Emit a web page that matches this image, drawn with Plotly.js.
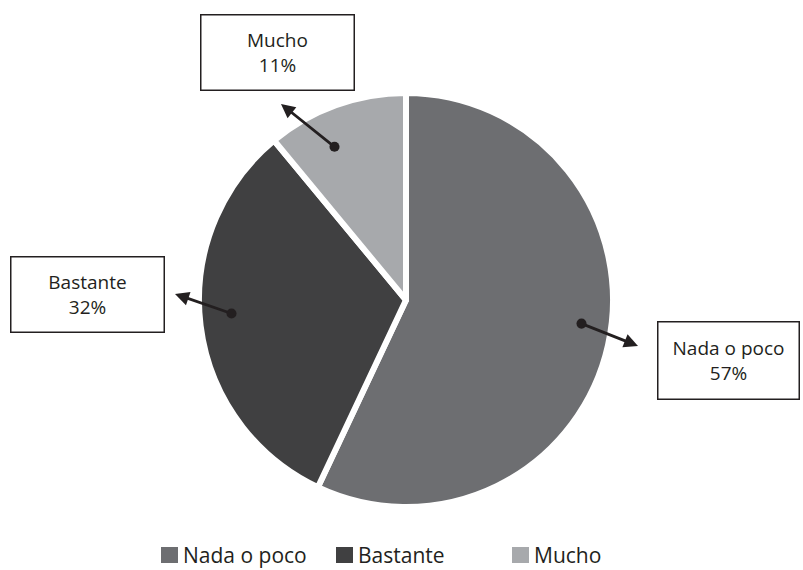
<!DOCTYPE html>
<html>
<head>
<meta charset="utf-8">
<script src="https://cdn.plot.ly/plotly-3.0.1.min.js"></script>
<style>html,body{margin:0;padding:0;background:#fff;}#chart{width:803px;height:570px;}</style>
</head>
<body>
<div id="chart"></div>
<script>
const categories = ["Nada o poco", "Bastante", "Mucho"];
const values = [57, 32, 11];
const colors = ["#6d6e71", "#404041", "#a7a9ac"];

const FONT = "Open Sans, Noto Sans, sans-serif";
const TXT = "#231f20";

const trace = {
  type: "pie",
  labels: categories,
  values: values,
  sort: false,
  direction: "clockwise",
  rotation: 0,
  textinfo: "none",
  hoverinfo: "label+percent",
  marker: {colors: colors, line: {color: "#ffffff", width: 6}},
  domain: {x: [199/803, 613/803], y: [63/570, 477/570]},
  showlegend: false
};

const W = 803, H = 570;
function px(x) { return x / W; }
function py(y) { return 1 - y / H; }

// label box layout (pixels)
const boxes = [
  {cx: 728, cy: 360, w: 140, h: 76},
  {cx: 87, cy: 294, w: 152, h: 74},
  {cx: 277, cy: 52, w: 152, h: 74}
];
const arrows = [
  {hx: 638, hy: 346, tx: 580, ty: 323},
  {hx: 175, hy: 294, tx: 233, ty: 314},
  {hx: 281, hy: 104, tx: 336, ty: 148}
];
// legend layout (pixels): square left edge
const legendX = [161, 336, 512];
const legendY = 555;

const total = values.reduce((a, b) => a + b, 0);
const annotations = [];
const shapes = [];
categories.forEach((c, i) => {
  const pct = Math.round(100 * values[i] / total);
  const b = boxes[i];
  annotations.push({
    xref: "paper", yref: "paper",
    x: px(b.cx), y: py(b.cy), xanchor: "center", yanchor: "middle",
    text: c + "<br>" + pct + "%",
    showarrow: false,
    font: {family: FONT, size: 19, color: TXT},
    bordercolor: "#231f20", borderwidth: 1.5, borderpad: 0,
    width: b.w, height: b.h, bgcolor: "#ffffff"
  });
  const a = arrows[i];
  annotations.push({
    xref: "paper", yref: "paper",
    x: px(a.hx), y: py(a.hy),
    ax: a.tx - a.hx, ay: a.ty - a.hy, axref: "pixel", ayref: "pixel",
    text: "", showarrow: true,
    arrowhead: 2, arrowsize: 1, arrowwidth: 2.8, arrowcolor: "#231f20",
    arrowside: "end+start", startarrowhead: 6, startarrowsize: 0.9,
    standoff: 0, startstandoff: 0
  });
  // legend entry
  const lx = legendX[i];
  shapes.push({
    type: "rect", xref: "paper", yref: "paper",
    x0: px(lx), x1: px(lx + 17), y0: py(legendY + 8), y1: py(legendY - 8),
    fillcolor: colors[i], line: {width: 0}
  });
  annotations.push({
    xref: "paper", yref: "paper",
    x: px(lx + 21), y: py(legendY), xanchor: "left", yanchor: "middle",
    text: c, showarrow: false, borderpad: 0,
    font: {family: FONT, size: 21, color: TXT}
  });
});

const layout = {
  width: 803, height: 570,
  margin: {l: 0, r: 0, t: 0, b: 0},
  paper_bgcolor: "#ffffff",
  showlegend: false,
  annotations: annotations,
  shapes: shapes
};

Plotly.newPlot("chart", [trace], layout, {displayModeBar: false, staticPlot: true});
</script>
</body>
</html>
